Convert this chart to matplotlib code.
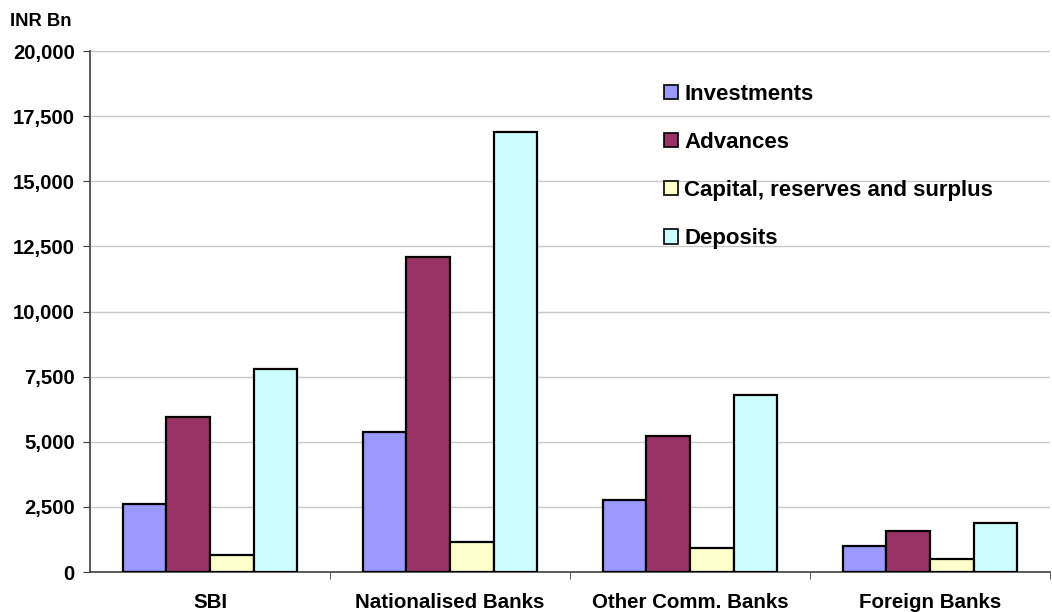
import matplotlib
matplotlib.use("Agg")
import matplotlib.pyplot as plt
import numpy as np
from matplotlib.ticker import FuncFormatter, MultipleLocator

plt.rcParams['font.family'] = ['Liberation Sans', 'DejaVu Sans']
plt.rcParams['font.weight'] = 'bold'

categories = ["SBI", "Nationalised Banks", "Other Comm. Banks", "Foreign Banks"]
series_names = ["Investments", "Advances", "Capital, reserves and surplus", "Deposits"]
investments = [2610, 5390, 2765, 1000]
advances = [5965, 12080, 5235, 1590]
capital = [655, 1155, 935, 490]
deposits = [7780, 16890, 6790, 1890]
colors = ["#9999FF", "#993366", "#FFFFCC", "#CCFFFF"]

data = [investments, advances, capital, deposits]

fig = plt.figure(figsize=(10.52, 6.12), dpi=100)
ax = fig.add_axes([90/1052, 1 - 572/612, (1050-90)/1052, (572-51)/612])

n = len(categories)
x = np.arange(n)
bw = 1 / 5.5
for i, (vals, name, c) in enumerate(zip(data, series_names, colors)):
    ax.bar(x + (i - 1.5) * bw, vals, width=bw, color=c, edgecolor='black',
           linewidth=1.6, label=name, zorder=3)

ax.set_xlim(-0.5, n - 0.5)
ax.set_ylim(0, 20000)
ax.yaxis.set_major_locator(MultipleLocator(2500))
ax.yaxis.set_major_formatter(FuncFormatter(lambda v, p: f"{int(v):,}"))
ax.grid(axis='y', color='#c8c8c8', linewidth=1, zorder=0)
ax.set_axisbelow(True)

for s in ['top', 'right']:
    ax.spines[s].set_visible(False)
ax.spines['left'].set_color('#404040')
ax.spines['bottom'].set_color('#404040')
ax.spines['left'].set_linewidth(1.2)
ax.spines['bottom'].set_linewidth(1.2)

ax.set_xticks(np.arange(n) + 0.5, minor=True)
ax.set_xticks(x)
ax.set_xticklabels(categories, fontsize=14.8, fontweight='bold')
ax.tick_params(axis='x', which='major', length=0, pad=15)
ax.tick_params(axis='x', which='minor', length=5, color='#404040', direction='out')
ax.tick_params(axis='y', which='major', length=5, color='#404040', labelsize=14.6, pad=6)
for lbl in ax.get_yticklabels():
    lbl.set_fontweight('bold')

fig.text(10/1052, 1 - 21/612, "INR Bn", fontsize=13.2, fontweight='bold', va='center', ha='left')

leg = ax.legend(loc='upper left', bbox_to_anchor=((655-90)/960, (572-75)/521),
                frameon=False, fontsize=16, labelspacing=1.22, handlelength=0.62,
                handleheight=0.62, handletextpad=0.3, borderaxespad=0)
for t in leg.get_texts():
    t.set_fontweight('bold')
for h in leg.legend_handles:
    h.set_linewidth(1.2)

fig.savefig("out.png", dpi=100)
